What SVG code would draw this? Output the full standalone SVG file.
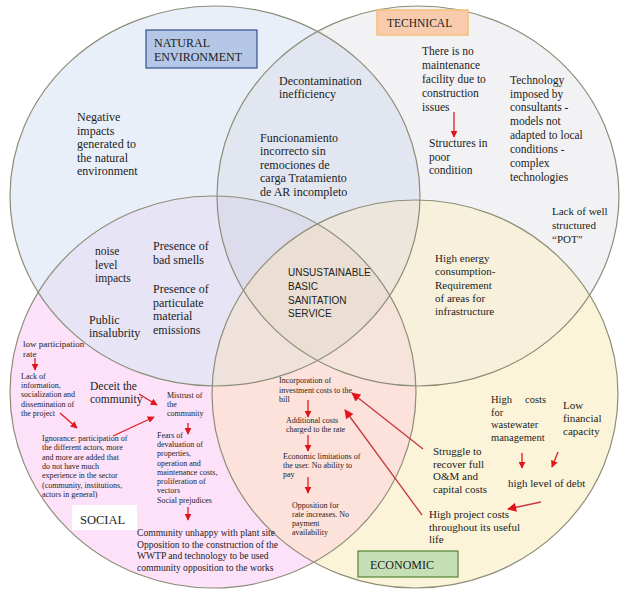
<svg xmlns="http://www.w3.org/2000/svg" xmlns:xlink="http://www.w3.org/1999/xlink" width="621" height="592" viewBox="0 0 621 592">
<defs>
  <ellipse id="eN" cx="215" cy="196" rx="205" ry="190"/>
  <ellipse id="eT" cx="418" cy="196" rx="201" ry="190"/>
  <ellipse id="eS" cx="213" cy="392" rx="203" ry="196"/>
  <ellipse id="eE" cx="415" cy="394" rx="203" ry="194"/>
  <clipPath id="cN"><use href="#eN"/></clipPath>
  <clipPath id="cT"><use href="#eT"/></clipPath>
  <clipPath id="cS"><use href="#eS"/></clipPath>
  <clipPath id="cE"><use href="#eE"/></clipPath>
  <marker id="ah" viewBox="0 0 10 10" refX="9" refY="5" markerWidth="7" markerHeight="7" markerUnits="userSpaceOnUse" orient="auto">
    <path d="M0,0 L10,5 L0,10 z" fill="#e3121b"/>
  </marker>
  <marker id="ahL" viewBox="0 0 10 10" refX="9" refY="5" markerWidth="10" markerHeight="9" markerUnits="userSpaceOnUse" orient="auto">
    <path d="M0,0 L10,5 L0,10 z" fill="#e3121b"/>
  </marker>
</defs>
<style>
  text, tspan { font-family: "Liberation Serif", Tinos, "Times New Roman", Times, "Noto Serif", "DejaVu Serif", FreeSerif, "Nimbus Roman", serif; }
  text { fill: #1c1c1c; }
  .f12 { font-size: 12px; }
  .f115 { font-size: 11.5px; }
  .f11 { font-size: 11px; }
  .f105 { font-size: 10.5px; }
  .f95 { font-size: 9.6px; }
  .f9 { font-size: 9px; }
  .f8 { font-size: 8px; }
  text.sans, text.sans tspan { font-family: "Liberation Sans", Arial, sans-serif; font-size: 10px; fill: #222; }
  .sm { stroke: #e21b1b; stroke-width: 1.3; fill: none; marker-end: url(#ah); }
  .lg { stroke: #c8373f; stroke-width: 1.3; fill: none; marker-end: url(#ahL); }
</style>
<rect width="621" height="592" fill="#ffffff"/>

<g id="regions">
  <use href="#eN" fill="#e9eff8"/>
  <use href="#eT" fill="#f2f2f4"/>
  <use href="#eS" fill="#fce1f9"/>
  <use href="#eE" fill="#fcf4d8"/>
  <g clip-path="url(#cN)"><use href="#eT" fill="#e2e6f0"/><use href="#eS" fill="#e6e4f5"/></g>
  <g clip-path="url(#cT)"><use href="#eE" fill="#f7f0db"/></g>
  <g clip-path="url(#cS)"><use href="#eE" fill="#fde2dc"/></g>
  <g clip-path="url(#cN)"><g clip-path="url(#cT)"><use href="#eS" fill="#dddcec"/><use href="#eE" fill="#ece6dc"/></g></g>
  <g clip-path="url(#cS)"><g clip-path="url(#cE)"><use href="#eN" fill="#efe2dd"/><use href="#eT" fill="#f6e3d9"/></g></g>
  <g clip-path="url(#cN)"><g clip-path="url(#cT)"><g clip-path="url(#cS)"><use href="#eE" fill="#ebdfd3"/></g></g></g>
</g>
<g id="outlines" fill="none" stroke="#8d8d78" stroke-width="1.2">
  <use href="#eN"/><use href="#eT"/><use href="#eS"/><use href="#eE"/>
</g>

<g id="label-natural">
  <rect x="146" y="30" width="111" height="38" fill="#b4c7e7" stroke="#2f528f" stroke-width="1.2"/>
  <text class="f12" x="154" y="47">NATURAL</text>
  <text class="f12" x="154" y="60.5">ENVIRONMENT</text>
</g>
<g id="label-technical">
  <rect x="377" y="10" width="91" height="25" fill="#f8cbad" stroke="#f4c07a" stroke-width="1.5"/>
  <text class="f115" x="387" y="27">TECHNICAL</text>
</g>
<g id="label-social">
  <rect x="72" y="505" width="65" height="25" fill="#ffffff"/>
  <text x="80" y="523.5" font-size="12.5">SOCIAL</text>
</g>
<g id="label-economic">
  <rect x="358" y="551" width="100" height="26" fill="#c5e0b4" stroke="#548235" stroke-width="1.2"/>
  <text class="f12" x="370" y="569">ECONOMIC</text>
</g>

<g id="n-negative-impacts">
  <text class="f12"><tspan x="77" y="121">Negative</tspan><tspan x="77" y="134.5">impacts</tspan><tspan x="77" y="148">generated to</tspan><tspan x="77" y="161.5">the natural</tspan><tspan x="77" y="175">environment</tspan></text>
</g>
<g id="n-decontamination">
  <text class="f12"><tspan x="279" y="85">Decontamination</tspan><tspan x="279" y="98">inefficiency</tspan></text>
</g>
<g id="n-funcionamiento">
  <text class="f12"><tspan x="260" y="142">Funcionamiento</tspan><tspan x="260" y="155">incorrecto  sin</tspan><tspan x="260" y="168.5">remociones de</tspan><tspan x="260" y="182">carga  Tratamiento</tspan><tspan x="260" y="195.5">de AR incompleto</tspan></text>
</g>
<g id="t-no-maintenance">
  <text class="f115"><tspan x="422" y="55">There is no</tspan><tspan x="422" y="69">maintenance</tspan><tspan x="422" y="83">facility due to</tspan><tspan x="422" y="97">construction</tspan><tspan x="422" y="110.5">issues</tspan></text>
</g>
<g id="t-structures">
  <text class="f115"><tspan x="429" y="147">Structures in</tspan><tspan x="429" y="160.5">poor</tspan><tspan x="429" y="174">condition</tspan></text>
</g>
<g id="t-technology">
  <text class="f115"><tspan x="510" y="84">Technology</tspan><tspan x="510" y="98">imposed by</tspan><tspan x="510" y="111">consultants -</tspan><tspan x="510" y="125">models not</tspan><tspan x="510" y="139">adapted to local</tspan><tspan x="510" y="153">conditions -</tspan><tspan x="510" y="167">complex</tspan><tspan x="510" y="181">technologies</tspan></text>
</g>
<g id="t-pot">
  <text class="f11"><tspan x="552" y="215">Lack of well</tspan><tspan x="552" y="229">structured</tspan><tspan x="552" y="243">“POT”</tspan></text>
</g>
<g id="ns-noise">
  <text class="f115"><tspan x="95" y="255">noise</tspan><tspan x="95" y="268.5">level</tspan><tspan x="95" y="282">impacts</tspan></text>
</g>
<g id="ns-smells">
  <text class="f12"><tspan x="153" y="250">Presence of</tspan><tspan x="153" y="263.5">bad smells</tspan></text>
</g>
<g id="ns-particulate">
  <text class="f12"><tspan x="153" y="293">Presence of</tspan><tspan x="153" y="306.5">particulate</tspan><tspan x="153" y="320">material</tspan><tspan x="153" y="333.5">emissions</tspan></text>
</g>
<g id="ns-insalubrity">
  <text class="f12"><tspan x="89" y="323.5">Public</tspan><tspan x="89" y="337">insalubrity</tspan></text>
</g>
<g id="center">
  <text class="sans"><tspan x="288" y="276">UNSUSTAINABLE</tspan><tspan x="288" y="290">BASIC</tspan><tspan x="288" y="303.5">SANITATION</tspan><tspan x="288" y="317">SERVICE</tspan></text>
</g>
<g id="te-energy">
  <text class="f11"><tspan x="435" y="262">High energy</tspan><tspan x="435" y="275">consumption-</tspan><tspan x="435" y="288.5">Requirement</tspan><tspan x="435" y="302">of areas for</tspan><tspan x="435" y="315">infrastructure</tspan></text>
</g>

<g id="s-low-participation">
  <text class="f9"><tspan x="23" y="346.5">low participation</tspan><tspan x="23" y="356.5">rate</tspan></text>
</g>
<g id="s-lack-info">
  <text class="f8"><tspan x="21" y="379">Lack of</tspan><tspan x="21" y="388.2">information,</tspan><tspan x="21" y="397.4">socialization and</tspan><tspan x="21" y="406.6">dissemination of</tspan><tspan x="21" y="415.8">the project</tspan></text>
</g>
<g id="s-deceit">
  <text class="f115"><tspan x="90" y="390">Deceit the</tspan><tspan x="90" y="403">community</tspan></text>
</g>
<g id="s-mistrust">
  <text class="f8"><tspan x="167" y="398">Mistrust of</tspan><tspan x="167" y="407">the</tspan><tspan x="167" y="416">community</tspan></text>
</g>
<g id="s-ignorance">
  <text class="f8"><tspan x="42" y="441">Ignorance: participation of</tspan><tspan x="42" y="450.3">the different actors, more</tspan><tspan x="42" y="459.6">and more are added that</tspan><tspan x="42" y="468.9">do not have much</tspan><tspan x="42" y="478.2">experience in the sector</tspan><tspan x="42" y="487.5">(community, institutions,</tspan><tspan x="42" y="496.8">actors in general)</tspan></text>
</g>
<g id="s-fears">
  <text class="f8"><tspan x="157" y="438">Fears of</tspan><tspan x="157" y="447.2">devaluation of</tspan><tspan x="157" y="456.4">properties,</tspan><tspan x="157" y="465.6">operation and</tspan><tspan x="157" y="474.8">maintenance costs,</tspan><tspan x="157" y="484">proliferation of</tspan><tspan x="157" y="493.2">vectors</tspan><tspan x="157" y="502.6">Social prejudices</tspan></text>
</g>
<g id="s-community-unhappy">
  <text class="f95"><tspan x="137" y="536">Community unhappy with plant site</tspan><tspan x="137" y="547.5">Opposition to the construction of the</tspan><tspan x="137" y="559">WWTP and technology to be used</tspan><tspan x="137" y="570.5">community opposition to the works</tspan></text>
</g>

<g id="se-incorporation">
  <text class="f8"><tspan x="279" y="383">Incorporation of</tspan><tspan x="279" y="392.5">investment costs to the</tspan><tspan x="279" y="402">bill</tspan></text>
</g>
<g id="se-additional">
  <text class="f8"><tspan x="286" y="423">Additional costs</tspan><tspan x="286" y="432">charged to the rate</tspan></text>
</g>
<g id="se-limitations">
  <text class="f8"><tspan x="283" y="459">Economic limitations of</tspan><tspan x="283" y="468">the user. No ability to</tspan><tspan x="283" y="477">pay</tspan></text>
</g>
<g id="se-opposition">
  <text class="f8"><tspan x="292" y="507.5">Opposition for</tspan><tspan x="292" y="516.5">rate increases. No</tspan><tspan x="292" y="525.5">payment</tspan><tspan x="292" y="535">availability</tspan></text>
</g>
<g id="e-struggle">
  <text class="f11"><tspan x="433" y="455">Struggle to</tspan><tspan x="433" y="467.5">recover full</tspan><tspan x="433" y="480">O&amp;M and</tspan><tspan x="433" y="492.5">capital costs</tspan></text>
</g>
<g id="e-high-costs">
  <text class="f105"><tspan x="491" y="403">High</tspan><tspan x="546" y="403" text-anchor="end">costs</tspan><tspan x="491" y="415.5">for</tspan><tspan x="491" y="428">wastewater</tspan><tspan x="491" y="441">management</tspan></text>
</g>
<g id="e-low-financial">
  <text class="f11"><tspan x="563" y="409">Low</tspan><tspan x="563" y="422">financial</tspan><tspan x="563" y="434.5">capacity</tspan></text>
</g>
<g id="e-debt">
  <text class="f11" x="508" y="487">high level of debt</text>
</g>
<g id="e-project-costs">
  <text class="f11"><tspan x="429" y="518">High project costs</tspan><tspan x="429" y="530.5">throughout its useful</tspan><tspan x="429" y="543">life</tspan></text>
</g>

<g id="connectors">
  <line class="sm" x1="454" y1="112" x2="454" y2="137"/>
  <line class="sm" x1="35" y1="358" x2="35" y2="370"/>
  <line class="sm" x1="60" y1="413" x2="77" y2="428"/>
  <line class="sm" x1="139" y1="394" x2="157" y2="405"/>
  <line class="sm" x1="113" y1="436" x2="154" y2="417"/>
  <line class="sm" x1="188" y1="423" x2="188" y2="434"/>
  <line class="sm" x1="188" y1="507" x2="188" y2="520"/>
  <line class="sm" x1="308" y1="400" x2="308" y2="417"/>
  <line class="sm" x1="308" y1="435" x2="308" y2="451"/>
  <line class="sm" x1="308" y1="477" x2="308" y2="493"/>
  <line class="sm" x1="522" y1="453" x2="522" y2="468"/>
  <line class="sm" x1="558" y1="452" x2="552" y2="467"/>
  <line class="lg" x1="423" y1="449" x2="352" y2="393"/>
  <line class="lg" x1="422" y1="515" x2="345" y2="410"/>
  <line class="lg" x1="541" y1="502" x2="508" y2="509"/>
</g>
</svg>
